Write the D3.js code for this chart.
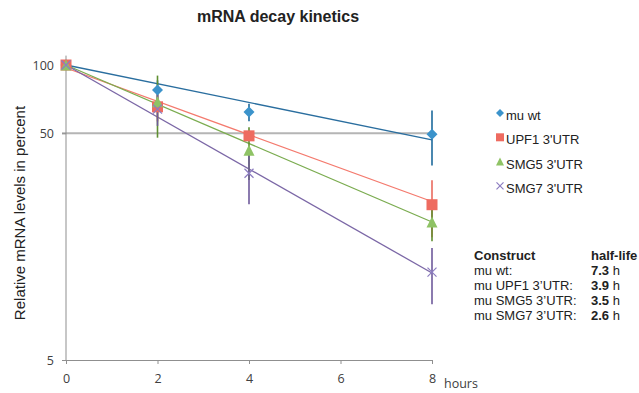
<!DOCTYPE html>
<html>
<head>
<meta charset="utf-8">
<script src="https://cdn.jsdelivr.net/npm/d3@7"></script>
<style>
  html, body { margin: 0; padding: 0; background: #fff; }
  svg { display: block; }
  .sans { font-family: "Liberation Sans", Arial, sans-serif; }
  .tick text { font-family: "Open Sans", sans-serif; font-size: 12.5px; fill: #404040; }
</style>
</head>
<body>
<div id="chart"></div>
<script>
// data
const hours = [0, 2, 4, 8];
const seriesNames = ['mu wt', "UPF1 3'UTR", "SMG5 3'UTR", "SMG7 3'UTR"];
const wtValues = [100, 77.5, 62, 49.5];
const upf1Values = [100, 65.4, 48.7, 24.2];
const smg5Values = [100, 68.8, 42.1, 20.3];
const smg7Values = [100, 63.9, 33.3, 12.2];
const wtErrors = [0, 8, 5.5, 13.5];
const upf1Errors = [0, 9, 2.5, 6.8];
const smg5Errors = [0, 21, 11, 3.6];
const smg7Errors = [0, 10, 9, 3.4];
// trend line values at 0 h and 8 h
const trendHours = [0, 8];
const wtTrend = [100, 46.7];
const upf1Trend = [97, 25];
const smg5Trend = [100, 20.3];
const smg7Trend = [100, 12.1];
const yTicks = [5, 50, 100];
const xTicks = [0, 2, 4, 6, 8];
const tableConstructs = ['mu wt:', 'mu UPF1 3\u2019UTR:', 'mu SMG5 3\u2019UTR:', 'mu SMG7 3\u2019UTR:'];
const halfLives = ['7.3', '3.9', '3.5', '2.6'];

const series = [
  { name: seriesNames[0], values: wtValues, errs: wtErrors, trend: wtTrend,
    shape: 'diamond', fill: '#3b93cb', line: '#2a6e9f', bar: '#1d6a9c' },
  { name: seriesNames[1], values: upf1Values, errs: upf1Errors, trend: upf1Trend,
    shape: 'square', fill: '#ee6b60', line: '#f47a6e', bar: '#ea6a5e' },
  { name: seriesNames[2], values: smg5Values, errs: smg5Errors, trend: smg5Trend,
    shape: 'triangle', fill: '#8fc365', line: '#7bac50', bar: '#5f8f30' },
  { name: seriesNames[3], values: smg7Values, errs: smg7Errors, trend: smg7Trend,
    shape: 'cross', fill: '#8c7cc0', line: '#7b67a6', bar: '#6e5a9b' },
];

const width = 639;
const height = 393;

const svg = d3.select('#chart').append('svg')
  .attr('width', width)
  .attr('height', height);

const x = d3.scaleLinear().domain([0, 8]).range([66, 432]);
const y = d3.scaleLog().domain([5, 100]).range([360, 65]);

// title
svg.append('text')
  .attr('class', 'sans')
  .attr('x', 278)
  .attr('y', 22)
  .attr('text-anchor', 'middle')
  .style('font-size', '16px')
  .style('font-weight', 'bold')
  .attr('fill', '#222')
  .text('mRNA decay kinetics');

// y label
svg.append('text')
  .attr('class', 'sans')
  .attr('transform', 'translate(25, 213) rotate(-90)')
  .attr('text-anchor', 'middle')
  .style('font-size', '15px')
  .attr('fill', '#222')
  .text('Relative mRNA levels in percent');

// gridline at 50
svg.append('line')
  .attr('x1', x(0) - 4).attr('x2', x(8))
  .attr('y1', y(50)).attr('y2', y(50))
  .attr('stroke', '#b5b5b5')
  .attr('stroke-width', 2);

// axes
const yAxis = svg.append('g')
  .attr('transform', `translate(${x(0)},0)`)
  .call(d3.axisLeft(y).tickValues(yTicks).tickSize(4).tickPadding(8).tickFormat(d3.format('d')));
yAxis.select('.domain').remove();
yAxis.append('line')
  .attr('y1', y(110)).attr('y2', y(5))
  .attr('stroke', '#8f8f8f');

const xAxis = svg.append('g')
  .attr('transform', `translate(0,${y(5)})`)
  .call(d3.axisBottom(x).tickValues(xTicks).tickSize(4).tickPadding(10).tickSizeOuter(0));
xAxis.select('.domain').attr('stroke', '#8f8f8f');

svg.selectAll('.tick line').attr('stroke', '#8f8f8f');

svg.append('text')
  .attr('x', x(8) + 12)
  .attr('y', y(5) + 28)
  .style('font-family', '"Open Sans", sans-serif')
  .style('font-size', '12.5px')
  .attr('fill', '#404040')
  .text('hours');

// trend lines
const trendLine = d3.line().x((d) => x(d[0])).y((d) => y(d[1]));
svg.append('g').selectAll('path')
  .data(series)
  .join('path')
  .attr('d', (s) => trendLine(trendHours.map((h, i) => [h, s.trend[i]])))
  .attr('fill', 'none')
  .attr('stroke', (s) => s.line)
  .attr('stroke-width', 1.3);

// symbols
function drawMarker(g, shape, color, size) {
  if (shape === 'diamond') {
    g.append('path')
      .attr('d', `M0,${-size / 2}L${size / 2},0L0,${size / 2}L${-size / 2},0Z`)
      .attr('fill', color);
  } else if (shape === 'square') {
    g.append('rect')
      .attr('x', -size / 2).attr('y', -size / 2)
      .attr('width', size).attr('height', size)
      .attr('fill', color);
  } else if (shape === 'triangle') {
    g.append('path')
      .attr('d', `M0,${-size / 2}L${size / 2},${size / 2}L${-size / 2},${size / 2}Z`)
      .attr('fill', color);
  } else {
    const h = size / 2;
    g.append('path')
      .attr('d', `M${-h},${-h}L${h},${h}M${-h},${h}L${h},${-h}`)
      .attr('stroke', color)
      .attr('stroke-width', 1.2)
      .attr('fill', 'none');
  }
}

// error bars, series by series
series.forEach((s) => {
  const g = svg.append('g');
  g.selectAll('line')
    .data(hours.map((h, i) => ({ h, v: s.values[i], e: s.errs[i] })).filter((d) => d.e > 0))
    .join('line')
    .attr('x1', (d) => x(d.h)).attr('x2', (d) => x(d.h))
    .attr('y1', (d) => y(d.v + d.e))
    .attr('y2', (d) => y(d.v - d.e))
    .attr('stroke', s.bar)
    .attr('stroke-width', 1.6);
});
// markers
series.forEach((s) => {
  hours.forEach((h, i) => {
    const g = svg.append('g').attr('transform', `translate(${x(h)},${y(s.values[i])})`);
    const size = s.shape === 'cross' ? 9 : 11;
    drawMarker(g, s.shape, s.fill, size);
  });
});

// legend
const legend = svg.append('g').attr('transform', 'translate(500,115)');
series.forEach((s, i) => {
  const row = legend.append('g').attr('transform', `translate(0,${i * 24.3})`);
  drawMarker(row.append('g').attr('transform', 'translate(0,-2)'), s.shape, s.fill, s.shape === 'cross' ? 7 : 8);
  row.append('text')
    .attr('class', 'sans')
    .attr('x', 6)
    .attr('y', 5)
    .style('font-size', '13px')
    .attr('fill', '#222')
    .text(s.name);
});

// half-life table
const table = svg.append('g').attr('class', 'sans').attr('fill', '#222');
table.append('text')
  .attr('x', 474).attr('y', 260)
  .style('font-size', '13px').style('font-weight', 'bold')
  .text('Construct');
table.append('text')
  .attr('x', 591).attr('y', 260)
  .style('font-size', '13px').style('font-weight', 'bold')
  .text('half-life');
tableConstructs.forEach((c, i) => {
  const yy = 275 + i * 15;
  table.append('text')
    .attr('x', 474).attr('y', yy)
    .style('font-size', '13px')
    .text(c);
  const t = table.append('text')
    .attr('x', 591).attr('y', yy)
    .style('font-size', '13px');
  t.append('tspan').style('font-weight', 'bold').text(halfLives[i]);
  t.append('tspan').text(' h');
});
</script>
</body>
</html>
